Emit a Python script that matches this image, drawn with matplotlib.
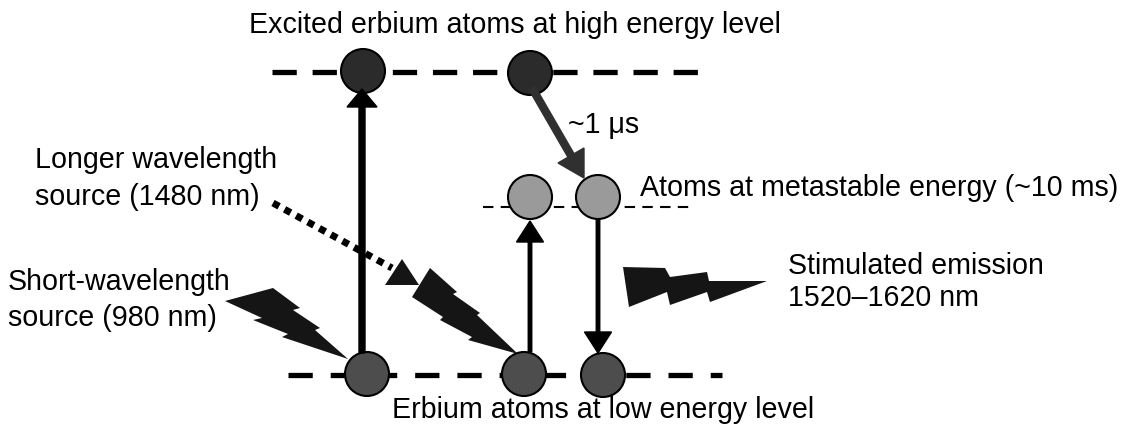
import matplotlib.pyplot as plt
from matplotlib.patches import Circle, Polygon, FancyArrow

# energy levels (pixel y) and their dashed extents
level_y = {"high": 72, "meta": 207, "low": 375}
level_x = {"high": (272, 712), "meta": (483, 690), "low": (288, 722)}

# atoms: (x, y)
atoms_high = [(363, 71), (530, 73)]
atoms_meta = [(530, 197), (598, 197)]
atoms_low = [(367, 374), (524, 374), (603, 375)]
atom_r = 22

# lightning bolts (outline points)
bolt_short = [(225, 301), (273, 288), (300, 308), (293, 310), (320, 328), (315, 330),
              (348, 359), (282, 337), (288, 334), (253, 320), (262, 318)]
bolt_long = [(412, 297), (430, 268), (457, 292), (453, 294), (480, 313), (477, 315),
             (518, 354), (468, 340), (472, 337), (440, 320), (443, 317)]
bolt_long_head = [(385, 285), (402, 259), (419, 285)]
bolt_emit = [(623, 267), (665, 268), (670, 277), (707, 272), (709, 281), (767, 281),
             (710, 302), (707, 292), (670, 305), (667, 292), (629, 307)]
dotted_path = [(273, 203), (392, 268)]

fig = plt.figure(figsize=(11.21, 4.28), dpi=100)
ax = fig.add_axes([0, 0, 1, 1])
ax.set_xlim(0, 1121)
ax.set_ylim(428, 0)
ax.axis("off")

# levels
ax.plot(level_x["high"], [level_y["high"]] * 2, color="black", lw=3.8,
        dashes=(4.6, 3.0), zorder=1)
ax.plot(level_x["low"], [level_y["low"]] * 2, color="black", lw=3.8,
        dashes=(4.6, 3.4), zorder=1)
ax.plot(level_x["meta"], [level_y["meta"]] * 2, color="black", lw=1.5,
        dashes=(5, 3.5), zorder=1)

# arrows
ax.add_patch(FancyArrow(362, 353, 0, -264, width=6, head_width=30, head_length=18,
                        length_includes_head=True, color="black", zorder=4))
ax.add_patch(FancyArrow(530, 352, 0, -131, width=3.5, head_width=27, head_length=21,
                        length_includes_head=True, color="black", zorder=4))
ax.add_patch(FancyArrow(598, 219, 0, 134, width=3.5, head_width=27, head_length=21,
                        length_includes_head=True, color="black", zorder=4))
ax.add_patch(FancyArrow(532, 88, 52, 90, width=7, head_width=30, head_length=26,
                        length_includes_head=True, color="#303030", zorder=4))

# atoms
for x, y in atoms_high:
    ax.add_patch(Circle((x, y), atom_r, fc="#2b2b2b", ec="black", lw=1.5, zorder=3))
for x, y in atoms_meta:
    ax.add_patch(Circle((x, y), atom_r, fc="#9a9a9a", ec="black", lw=1.5, zorder=3))
for x, y in atoms_low:
    ax.add_patch(Circle((x, y), atom_r, fc="#4d4d4d", ec="black", lw=1.5, zorder=3))

# bolts
for pts in (bolt_short, bolt_long, bolt_long_head, bolt_emit):
    ax.add_patch(Polygon(pts, closed=True, fc="#151515", ec="none", zorder=5))
xs, ys = zip(*dotted_path)
ax.plot(xs, ys, color="black", lw=5, dashes=(1, 0.9), solid_capstyle="butt", zorder=5)

font = dict(family="Liberation Sans", fontsize=20.6, color="black", va="baseline")
ax.text(515, 33, "Excited erbium atoms at high energy level", ha="center", **font)
ax.text(568, 133, "~1 \u03bcs", ha="left", **font)
ax.text(35, 168, "Longer wavelength", ha="left", **font)
ax.text(35, 205, "source (1480 nm)", ha="left", **font)
ax.text(640, 196, "Atoms at metastable energy (~10 ms)", ha="left", **font)
ax.text(8, 290, "Short-wavelength", ha="left", **font)
ax.text(8, 326, "source (980 nm)", ha="left", **font)
ax.text(788, 274, "Stimulated emission", ha="left", **font)
ax.text(788, 306, "1520\u20131620 nm", ha="left", **font)
ax.text(603, 418, "Erbium atoms at low energy level", ha="center", **font)

fig.savefig("out.png", dpi=100)
